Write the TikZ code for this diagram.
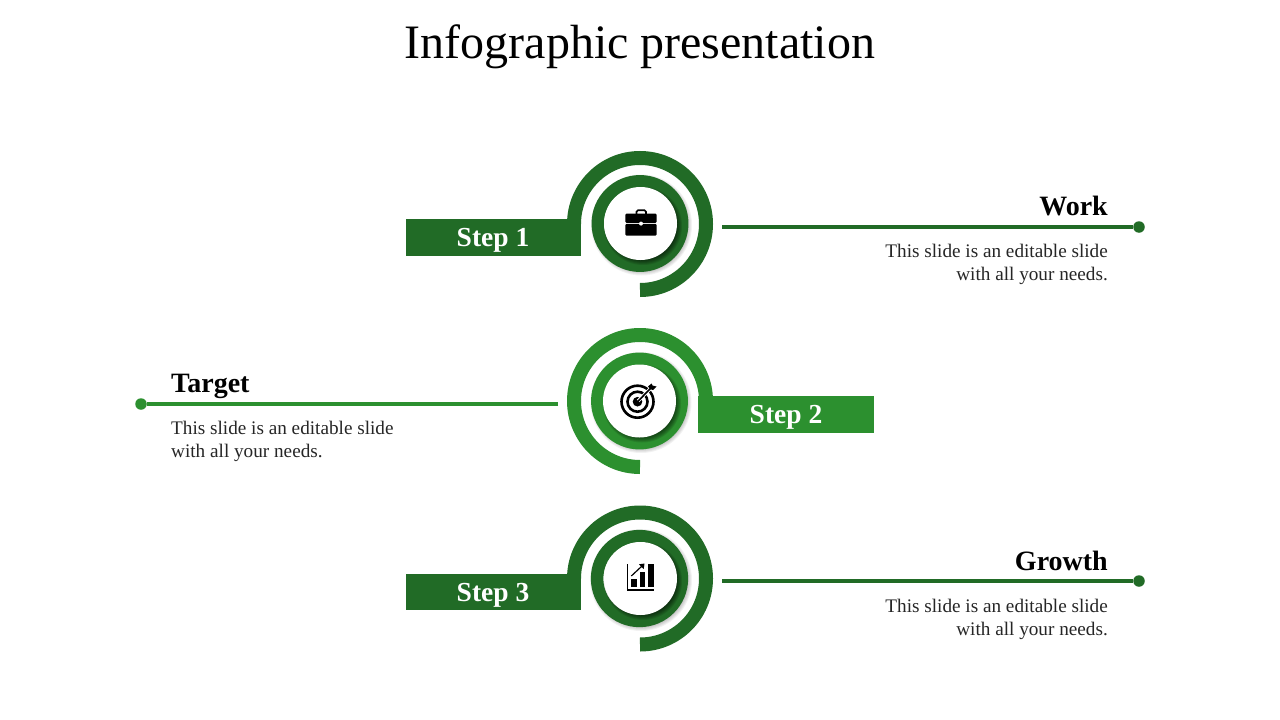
\documentclass[tikz,border=0pt]{standalone}
\usepackage{fontspec}
\setmainfont{Liberation Serif}
\definecolor{stepdark}{HTML}{216B26}
\definecolor{steplight}{HTML}{2C902F}
\newcommand{\ringshadow}[4]{%
    \foreach \r in {0,1,...,5}
        \fill[black,opacity=#4] (#1+2.5,#2+2.5) circle [radius=#3+2.5-\r];
}
\tikzset{
    titletext/.style={font=\fontsize{48}{50}\selectfont,inner sep=0pt},
    headtext/.style={font=\bfseries\fontsize{28}{30}\selectfont,inner sep=0pt},
    bodytext/.style={font=\fontsize{19.2}{22.6}\selectfont,inner sep=0pt,text=black!85},
    steptext/.style={font=\bfseries\fontsize{27.5}{29}\selectfont,text=white,inner sep=0pt},
    stepbar/.style={fill=#1},
    spiral/.style={draw=#1,line width=14pt},
    holder/.style={draw=#1,line width=12.5pt},
    leader/.style={draw=#1,line width=3.6pt},
    enddot/.style={circle,fill=#1,minimum size=11.5pt,inner sep=0pt},
}
\begin{document}
\begin{tikzpicture}[x=1pt,y=-1pt]
    \useasboundingbox (0,0) rectangle (1280,720);
    \fill[white] (0,0) rectangle (1280,720);

    \node[titletext,anchor=base] (title) at (640,58) {Infographic presentation};

    % step 1
    \fill[stepbar=stepdark] (406,219) rectangle (581,256);
    \draw[spiral=stepdark] (640,290) arc [start angle=90,end angle=-180,radius=66];
    \ringshadow{639}{222.5}{48}{0.05}
    \draw[holder=stepdark,fill=white] (640,223.5) circle [radius=42.2];
    \ringshadow{640.5}{223.5}{36.5}{0.11}
    \fill[white] (640.5,223.5) circle [radius=36.5];
    \node[steptext,anchor=base] (step1) at (493,246) {Step 1};

    \draw[black,line width=1.6pt,rounded corners=1.5pt] (636.5,214) -- (636.5,210.2) -- (646,210.2) -- (646,214);
    \fill[black,rounded corners=1.2pt] (625.3,213.6) rectangle (656.7,222.8);
    \fill[black,rounded corners=1.2pt] (625.3,223.8) rectangle (656.7,235.7);
    \fill[white] (641,223.6) circle [radius=2];

    \coordinate (workstart) at (722,227);
    \node[enddot=stepdark] (workdot) at (1139,227) {};
    \draw[leader=stepdark] (workstart) -- (workdot);
    \node[headtext,anchor=base east] (work) at (1108,215) {Work};
    \node[bodytext,anchor=north east,align=right] (worktext) at (1108,244) {This slide is an editable slide\\with all your needs.};

    % step 2
    \fill[stepbar=steplight] (698,396) rectangle (874,433);
    \draw[spiral=steplight] (640,467) arc [start angle=90,end angle=360,radius=66];
    \ringshadow{638.5}{400}{48}{0.05}
    \draw[holder=steplight,fill=white] (639.5,401) circle [radius=42.2];
    \ringshadow{639.5}{401}{36.5}{0.11}
    \fill[white] (639.5,401) circle [radius=36.5];
    \node[steptext,anchor=base] (step2) at (786,423) {Step 2};

    \draw[black,line width=2.6pt] (637.5,401.7) circle [radius=16];
    \draw[black,line width=2.6pt] (637.5,401.7) circle [radius=10];
    \fill[black] (637.5,401.7) circle [radius=4.8];
    \draw[white,line width=3.5pt] (638,401) -- (651,388);
    \draw[black,line width=1.6pt] (637.5,401.7) -- (651,388);
    \fill[black] (648,386.5) -- (651.5,383.5) -- (652.5,385.5) -- (656.5,386.5) -- (653,390) -- (650,389) -- cycle;

    \coordinate (targetstart) at (558,404);
    \node[enddot=steplight] (targetdot) at (141,404) {};
    \draw[leader=steplight] (targetstart) -- (targetdot);
    \node[headtext,anchor=base west] (target) at (171,392) {Target};
    \node[bodytext,anchor=north west,align=left] (targettext) at (171,421) {This slide is an editable slide\\with all your needs.};

    % step 3
    \fill[stepbar=stepdark] (406,574) rectangle (581,610);
    \draw[spiral=stepdark] (640,644.5) arc [start angle=90,end angle=-180,radius=66];
    \ringshadow{638.5}{577.5}{48.5}{0.05}
    \draw[holder=stepdark,fill=white] (639.5,578.5) circle [radius=42.4];
    \ringshadow{640.5}{578.5}{36.5}{0.11}
    \fill[white] (640.5,578.5) circle [radius=36.5];
    \node[steptext,anchor=base] (step3) at (493,601) {Step 3};

    \fill[black] (626.7,564) rectangle (628.2,591);
    \fill[black] (626.7,589.3) rectangle (654.3,591);
    \fill[black] (631.3,579.3) rectangle (637,587);
    \fill[black] (639.7,572.3) rectangle (645.2,587);
    \fill[black] (648,564) rectangle (653.9,587);
    \draw[black,line width=1.2pt] (631.3,576) -- (642,566);
    \fill[black] (639,564.3) -- (644.5,563.5) -- (643.7,569) -- cycle;

    \coordinate (growthstart) at (722,581);
    \node[enddot=stepdark] (growthdot) at (1139,581) {};
    \draw[leader=stepdark] (growthstart) -- (growthdot);
    \node[headtext,anchor=base east] (growth) at (1108,570) {Growth};
    \node[bodytext,anchor=north east,align=right] (growthtext) at (1108,599) {This slide is an editable slide\\with all your needs.};
\end{tikzpicture}
\end{document}
